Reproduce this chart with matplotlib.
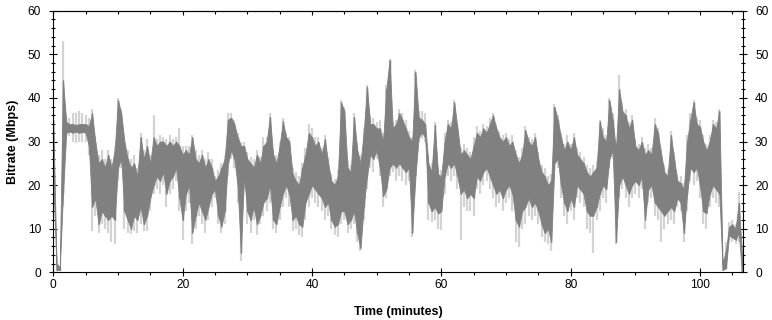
import numpy as np
import matplotlib
matplotlib.use("Agg")
import matplotlib.pyplot as plt
from matplotlib.ticker import MultipleLocator

plt.rcParams["font.family"] = ["Liberation Sans", "DejaVu Sans"]

# time axis: one sample every half minute
step = 0.5

# dark trace: low / high per half minute
dark_lo = [
    22, 0.5, 0.5, 18, 32, 32.3, 32, 32.3, 32, 32.2,
    32, 29, 15, 17, 11, 14, 13, 12, 13, 12,
    24, 26, 14, 12, 10, 13, 12, 15, 11, 13,
    17, 20, 22, 21, 23, 18, 21, 22, 24, 17,
    12, 18, 20, 9, 13, 16, 14, 12, 15, 18,
    19, 13, 10.5, 14, 25, 28, 26, 20, 4.5, 22,
    14, 12, 15, 11, 13, 16, 17, 20, 12, 11,
    15, 18, 20, 18, 12, 13, 11, 10.5, 16, 18,
    20, 19, 18, 17, 15, 16, 12, 10.5, 11, 14,
    14, 11, 12, 14, 9, 5.5, 15, 22, 27, 26,
    28, 24, 17.5, 19, 24, 25, 24, 25, 24, 23,
    24, 9, 22, 31, 32, 31, 16, 14, 15, 13.5,
    14, 22, 25, 24, 25, 22, 18, 19, 17, 18,
    17, 22, 21, 23, 24, 22, 20, 18, 19, 17,
    19, 20, 18, 12, 10.5, 14, 15, 17, 15, 16,
    14, 11, 9, 10, 7, 25, 26, 20, 16, 14,
    17, 15, 20, 19, 18, 14, 13, 13, 15, 18,
    20, 19, 26, 28, 7, 20, 22, 20, 18, 20,
    21, 20, 22, 12, 19, 20, 16, 15, 14, 13,
    14, 15, 14, 17, 16, 9, 18, 24, 23, 24,
    20, 14, 13.5, 18, 20, 19, 18, 0.5, 1, 8.5,
    8, 7.5, 9, 0,
]
dark_hi = [
    35, 2, 1.2, 44, 34.5, 34, 34, 33.8, 34, 34,
    34, 33.5, 36.5, 30, 25, 26, 24, 27, 24, 28,
    39.5, 36.5, 30, 26, 24, 25, 22, 31, 26, 29,
    25, 31, 29, 30, 30, 29, 30, 29, 30, 29,
    27, 28, 27, 31, 26, 25, 27, 24, 26, 24,
    21, 22, 24, 26, 35, 35.5, 34, 31, 29, 29,
    26, 25, 24, 27, 25, 29, 30, 35.7, 27, 25,
    29, 34.6, 31, 30, 22.5, 21, 20, 24, 27, 32,
    31, 29, 30, 27, 30.5, 25, 21, 20, 22, 39,
    37, 24, 23, 35.7, 28, 25, 32, 42.6, 34, 34,
    33, 33, 30, 42, 48.7, 33, 34, 36.5, 35, 33,
    31, 30, 46, 35.5, 35, 34, 25, 23, 33.8, 22.5,
    22, 30, 34, 33, 39, 33, 27, 28, 27, 26,
    29, 32, 31, 33, 32, 34, 36, 33, 31, 30,
    31, 29, 30, 27, 25, 27, 32.6, 30, 29, 31,
    26, 23, 22, 20, 21, 38, 35, 31, 28, 30,
    28, 31, 27, 26, 25, 23, 22, 23, 24, 34.6,
    31, 30, 39.5, 35, 28, 42, 37, 36, 33, 35,
    29, 28, 30, 27, 28, 27, 34, 32, 27, 23,
    22, 31.5, 26, 21, 20.5, 19, 30, 35, 39, 34,
    33.4, 30, 28, 30, 34, 33, 37, 2, 5, 10.5,
    11, 10, 16, 4,
]
# light envelope: min / max per half minute
light_lo = [
    20, 0.2, 0.2, 15, 31, 31.2, 30, 29.6, 29.8, 30,
    30, 27, 9.5, 13, 9, 11, 10, 9, 7, 6.5,
    21, 24, 10, 9, 8.8, 9.5, 9, 11, 9.5, 9.5,
    14, 18, 19, 18, 20, 15, 18, 19, 21, 14,
    7.5, 14, 16, 6.5, 10, 13, 11, 9, 12, 15,
    17, 11, 9, 11, 22, 26, 24, 16, 2.5, 19,
    11, 9, 12, 8.5, 11, 13, 14, 16, 10, 9,
    12, 15, 17, 15, 9.5, 10, 8.5, 8, 12, 15,
    17, 16, 15, 14, 12, 13, 10, 8.5, 8.2, 11,
    12, 9, 10, 11, 7, 5, 12, 19, 24, 23,
    26, 22, 15, 17, 22, 23, 21, 22, 21, 20,
    21, 8, 20, 30, 30.5, 30, 12, 11.5, 12, 10,
    9.7, 18, 22, 21, 22, 19, 7.5, 15, 14, 14,
    13, 19, 18, 20, 21, 19, 17, 15, 16, 14,
    16, 17, 14, 7, 5.9, 10, 11, 13, 12, 13,
    11, 8, 7, 6.5, 5, 23, 24, 17, 13, 11,
    14, 12, 17, 16, 15, 10, 9, 4.5, 12, 14,
    17, 16, 24, 26, 6.5, 17, 19, 17, 15, 17,
    18, 17, 19, 10, 16, 17, 13, 12, 7, 10,
    11, 12, 11, 15, 14, 7, 14, 21, 20, 21,
    17, 11, 10, 15, 17, 16, 15, 0.2, 0.5, 7.5,
    7, 6.5, 7, 0,
]
light_hi = [
    38, 4, 1.5, 53, 36, 35.5, 36.5, 36.5, 37, 36.5,
    36, 35.5, 37.5, 31, 27, 28, 26, 28, 26, 29,
    40, 37.5, 31, 28, 26, 27, 24, 32, 28, 30.5,
    27, 36, 30.5, 31.5, 31, 30.5, 31.5, 30.5, 31, 33,
    29, 29, 29, 31.5, 28, 27, 28, 26, 27.5, 26,
    22, 23.5, 25, 27, 36.5, 36.5, 35, 32, 30, 30,
    27.5, 26.5, 26, 28, 26.5, 31, 31, 36.5, 28, 27,
    30, 35.5, 32, 31, 24, 23, 22, 25, 28.5, 34,
    33, 31, 31, 28.5, 31.5, 26.5, 22.5, 21.5, 23.5, 39.5,
    38, 25.5, 24.5, 36.5, 30, 27, 33, 43, 36, 35.5,
    34.5, 35, 32, 43, 49, 34.5, 35, 37.5, 36.5, 35,
    32.5, 31, 46.5, 37, 37, 36.5, 27, 25, 34.5, 24,
    23.5, 32, 35, 34.5, 39.5, 34, 28.5, 29.5, 28.5, 27.5,
    31, 33.5, 32.5, 34, 33.5, 35.5, 36.5, 34, 32.5, 31.5,
    32, 30.5, 31.5, 28, 26.5, 28.5, 33.5, 31, 30.5, 32,
    27.5, 24.5, 24, 22, 22.5, 38.5, 36, 32, 29.5, 31.5,
    29.5, 32, 28.5, 27.5, 26.5, 24.5, 24, 24.5, 25.5, 35,
    33, 31.5, 40, 36.5, 30, 45.3, 39, 37.5, 34.5, 36,
    30.5, 29.5, 31, 28.5, 29.5, 28.5, 35.5, 33, 28.5, 24.5,
    23.5, 32.5, 27.5, 22.5, 22, 20.5, 31.5, 36.5, 39.5, 35.5,
    35, 31.5, 29.5, 31.5, 35, 34.5, 37.5, 3, 7, 11.5,
    12, 11, 18.5, 5,
]

x_ticks = [0, 20, 40, 60, 80, 100]
y_ticks = [0, 10, 20, 30, 40, 50, 60]

t = np.arange(len(dark_lo)) * step

fig = plt.figure(figsize=(7.72, 3.2), dpi=100)
ax = fig.add_axes([0.069, 0.149, 0.893, 0.8176])

light = "#d3d3d3"
dark = "#808080"
# min/max range drawn as thin spikes, the main trace as a band on top
ax.vlines(t, light_lo, light_hi, color=light, lw=1.6, zorder=1)
ax.fill_between(t, dark_lo, dark_hi, color=dark, lw=0.6, edgecolor=dark, zorder=2)
ax.vlines(t, dark_lo, dark_hi, color=dark, lw=1.0, zorder=3)

ax.set_xlim(0, 106.6)
ax.set_ylim(0, 60)
ax.set_xticks(x_ticks)
ax.set_yticks(y_ticks)
ax.xaxis.set_minor_locator(MultipleLocator(5))
ax.yaxis.set_minor_locator(MultipleLocator(2))

for s in ax.spines.values():
    s.set_linewidth(0.8)
    s.set_zorder(5)

ax.tick_params(axis="x", which="major", direction="inout", length=5.5, width=0.8,
               labelsize=8.6, pad=2, top=False)
ax.tick_params(axis="x", which="minor", direction="out", length=2, width=0.8, top=False)
ax.tick_params(axis="y", which="major", direction="inout", length=5.8, width=0.8,
               labelsize=8.6, pad=6, left=True, right=True, labelright=True)
ax.tick_params(axis="y", which="minor", direction="inout", length=3.4, width=0.8,
               left=True, right=True)

# top edge has inward ticks only
top = ax.secondary_xaxis("top")
top.set_xticks(x_ticks)
top.xaxis.set_minor_locator(MultipleLocator(5))
top.tick_params(which="major", direction="in", length=2.9, width=0.8, labeltop=False)
top.tick_params(which="minor", direction="in", length=2.4, width=0.8)
top.spines["top"].set_linewidth(0.8)

ax.set_xlabel("Time (minutes)", fontsize=9, fontweight="bold", labelpad=11)
ax.set_ylabel("Bitrate (Mbps)", fontsize=9, fontweight="bold", labelpad=6)

fig.savefig("out.png", dpi=100)
